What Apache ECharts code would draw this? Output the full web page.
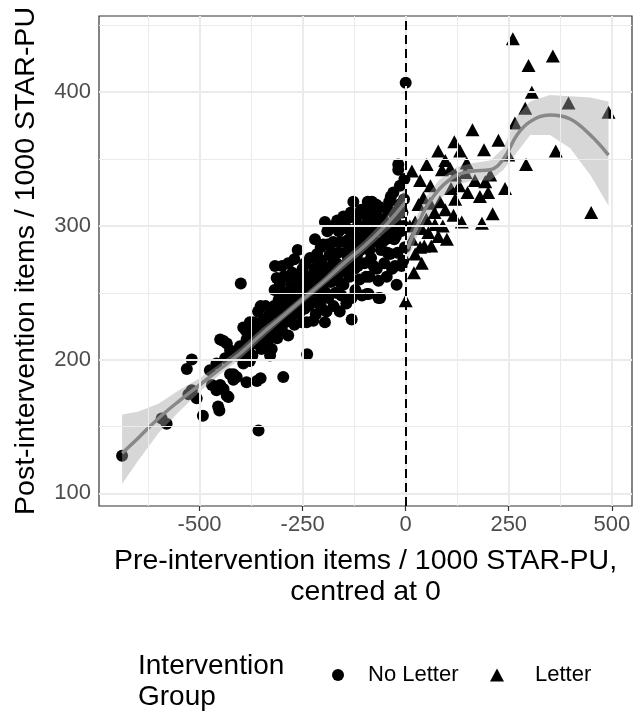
<!DOCTYPE html>
<html>
<head>
<meta charset="utf-8">
<script src="https://cdn.jsdelivr.net/npm/echarts@6/dist/echarts.min.js"></script>
<style>
  html, body { margin: 0; padding: 0; background: #fff; }
  #main { width: 634px; height: 712px; }
</style>
</head>
<body>
<div id="main"></div>
<script>
// tick positions
var xTicks = [-500, -250, 0, 250, 500];
var yTicks = [100, 200, 300, 400];
var xMinor = [-625, -375, -125, 125, 375];
var yMinor = [150, 250, 350, 450];

// No Letter practices: [pre (centred), post]
var noLetterPoints = [
  [-688,128],[-592,156],[-580,152],[-531,193],[-519,200],[-527,174],[-519,177],[-507,171],[-492,158],
  [-475,192],[-459,197],[-455,165],[-452,162],[-459,177],[-470,181],[-450,215],[-442,214],[-434,212],
  [-438,201],[-426,207],[-410,203],[-402,210],[-450,181],[-442,178],[-434,173],[-430,172],[-426,189],
  [-418,189],[-418,185],[-410,187],[-386,183],[-361,184],[-394,197],[-378,199],[-386,215],[-357,147],
  [-352,186],[-297,187],[-400,257],[-329,203],[-239,204],[-224,229],
  [-395,205],[-394,224],[-388,222],[-380,210],[-378,228],[-372,203],[-370,218],
  [-365,212],[-362,225],[-358,236],[-350,208],[-348,219],[-345,230],[-340,240],[-335,213],[-332,224],[-330,234],
  [-325,218],[-322,229],[-320,240],[-318,252],[-313,261],[-317,270],[-312,216],[-310,234],[-308,245],
  [-305,257],[-300,222],[-298,238],[-295,250],[-292,228],[-285,272],[-290,262],
  [-285,218],[-282,232],[-280,244],[-278,255],[-275,265],[-270,226],[-268,240],[-265,250],[-262,260],
  [-258,235],[-255,246],[-252,228],[-250,268],[-246,256],[-244,272],
  [-245,238],[-240,228],[-238,248],[-235,262],[-232,276],[-230,242],[-226,255],[-222,268],[-220,290],
  [-218,234],[-215,279],[-212,250],[-210,262],
  [-206,240],[-204,274],[-200,286],[-200,252],[-196,228],[-196,264],[-196,303],[-192,236],[-190,296],
  [-188,246],[-185,278],[-182,258],[-180,270],[-176,288],[-175,240],[-172,300],[-170,250],
  [-166,262],[-164,280],[-162,296],[-160,236],[-156,248],[-154,270],[-151,307],[-151,256],[-147,288],
  [-144,242],[-142,298],[-140,275],[-136,262],[-133,310],[-131,230],[-131,246],[-130,285],
  [-127,318],[-126,296],[-124,268],[-122,252],[-120,306],[-118,278],[-114,290],[-112,260],[-108,312],
  [-106,248],[-103,300],[-100,272],[-97,285],[-94,249],[-92,318],
  [-90,249],[-88,262],[-86,300],[-84,276],[-82,318],[-80,290],[-76,310],[-72,316],[-70,268],[-66,259],
  [-66,246],[-62,246],[-62,314],[-60,282],[-58,296],[-55,305],[-52,272],
  [-48,290],[-46,262],[-44,312],[-40,300],[-38,279],[-36,322],[-33,268],[-30,325],[-28,290],[-25,306],
  [-22,256],[-20,280],[-18,346],[-18,342],[-15,316],[-12,296],[-10,270],
  [-6,274],[-5,300],[-4,320],[-3,335],[-2,284],[0,407],
  [-300,245],[-288,240],[-272,234],[-260,242],[-248,252],[-236,240],[-228,262],[-214,244],[-208,256],
  [-202,268],[-194,250],[-186,262],[-178,280],[-168,272],[-160,258],[-158,288],[-148,266],[-146,280],
  [-138,290],[-134,270],[-128,278],[-122,288],[-116,270],[-110,282],[-104,292],[-98,300],[-96,262],
  [-88,282],[-84,296],[-78,270],[-74,300],[-70,288],[-66,306],[-56,288],[-50,300],[-44,280],[-40,318],
  [-34,296],[-30,310],[-26,270],[-24,292],[-16,300],[-14,330],[-8,310],[-340,222],[-325,208],[-315,225],
  [-305,230],[-296,262],[-276,250],[-266,262],[-254,258],[-240,262],[-232,252],[-218,276],[-206,284],
  [-190,286],[-184,298],[-176,300],[-166,304],[-158,300],[-140,306],[-116,300],[-100,310],[-92,306],
  [-85,312],[-356,216],[-368,228],[-384,210],[-376,220],[-342,226],[-352,240],[-300,270],[-270,275],[-262,282]
];

// Letter practices: [pre (centred), post]
var letterPoints = [
  [260,440],[357,427],[298,420],[306,400],[290,388],[395,392],[492,385],[265,377],[225,364],[190,357],
  [364,356],[249,353],[292,346],[205,338],[241,328],[211,309],[450,310],[185,302],
  [162,372],[118,363],[79,356],[132,356],[51,346],[96,349],[148,347],[15,341],[35,334],[88,342],
  [120,338],[168,334],[193,333],[108,343],
  [43,321],[31,316],[59,317],[96,312],[116,308],[136,303],[71,301],[23,303],[55,295],[100,290],[79,292],
  [35,284],[23,279],[39,272],[0,244],[39,298],[83,318],
  [130,330],[150,325],[180,322],[200,325],[145,340],[110,328],[60,330],[70,310],[50,305],[15,290],
  [10,300],[20,265],[45,285],[62,285],[90,300],[120,320]
];

// loess fits
var smoothNoX = [-688, -650, -600, -550, -500, -450, -400, -350, -300, -250, -200, -150, -100, -50, 0];
var smoothNoY = [130, 141, 156, 169, 181, 193, 205, 219, 232, 245, 258, 272, 285, 300, 318];
var ribbonNoLow = [107, 124, 145, 161, 176, 189, 201, 215, 229, 242, 255, 268, 281, 295, 308];
var ribbonNoHigh = [159, 161, 167, 177, 186, 197, 209, 223, 235, 248, 261, 276, 289, 305, 329];

var smoothLetX = [4, 25, 50, 83, 124, 164, 205, 237, 270, 302, 350, 399, 448, 492];
var smoothLetY = [283, 298, 314, 328, 338, 341, 342, 350, 368, 378, 383, 380, 368, 353];
var ribbonLetLow = [274, 290, 305, 320, 331, 334, 334, 342, 355, 368, 368, 358, 338, 315];
var ribbonLetHigh = [292, 306, 322, 335, 344, 347, 349, 358, 382, 393, 398, 397, 396, 393];

var font = 'Liberation Sans, Arial, Helvetica, sans-serif';

function zip(xs, ys) {
  return xs.map(function (x, i) { return [x, ys[i]]; });
}

function ribbon(xs, lo, hi) {
  return {
    type: 'custom',
    z: 3,
    silent: true,
    clip: true,
    data: [[xs[0], lo[0]]],
    renderItem: function (params, api) {
      var pts = [];
      for (var i = 0; i < xs.length; i++) pts.push(api.coord([xs[i], hi[i]]));
      for (var j = xs.length - 1; j >= 0; j--) pts.push(api.coord([xs[j], lo[j]]));
      return { type: 'polygon', shape: { points: pts }, style: { fill: 'rgba(163,163,163,0.43)' } };
    }
  };
}

function gridLines(values, dim, width) {
  return values.map(function (v) {
    var o = { lineStyle: { color: '#ebebeb', width: width, type: 'solid' } };
    o[dim] = v;
    return o;
  });
}

var chart = echarts.init(document.getElementById('main'));
chart.setOption({
  animation: false,
  textStyle: { fontFamily: font },
  grid: {
    left: 99, right: 2, top: 16, bottom: 206,
    show: true, borderColor: '#333', borderWidth: 1.2, backgroundColor: '#fff'
  },
  xAxis: {
    type: 'value', min: -744, max: 549,
    name: 'Pre-intervention items / 1000 STAR-PU,\ncentred at 0',
    nameLocation: 'middle', nameGap: 40,
    nameTextStyle: { fontSize: 28.5, color: '#000', lineHeight: 31, fontFamily: font },
    axisLine: { show: false },
    axisTick: { show: true, customValues: xTicks, length: 5, lineStyle: { color: '#333', width: 1.2 } },
    axisLabel: { customValues: xTicks, fontSize: 22, color: '#4d4d4d', margin: 8, fontFamily: font },
    splitLine: { show: false }
  },
  yAxis: {
    type: 'value', min: 90.5, max: 457,
    name: 'Post-intervention items / 1000 STAR-PU',
    nameLocation: 'middle', nameGap: 58,
    nameTextStyle: { fontSize: 28.5, color: '#000', fontFamily: font },
    axisLine: { show: false },
    axisTick: { show: true, customValues: yTicks, length: 5, lineStyle: { color: '#333', width: 1.2 } },
    axisLabel: { customValues: yTicks, fontSize: 22, color: '#4d4d4d', margin: 8, fontFamily: font },
    splitLine: { show: false }
  },
  legend: [
    {
      data: [{ name: 'No Letter', icon: 'circle' }],
      left: 327, top: 659, itemWidth: 12, itemHeight: 12,
      textStyle: { fontSize: 22, color: '#000', fontFamily: font, padding: [0, 0, 0, 19] }
    },
    {
      data: [{ name: 'Letter', icon: 'triangle' }],
      left: 485, top: 659, itemWidth: 14, itemHeight: 13,
      textStyle: { fontSize: 22, color: '#000', fontFamily: font, padding: [0, 0, 0, 26] }
    }
  ],
  graphic: [{
    type: 'text', left: 138, top: 651,
    style: { text: 'Intervention\nGroup', fontSize: 28, lineHeight: 31, fill: '#000', fontFamily: font }
  }],
  series: [
    {
      type: 'line', data: [], z: 1, silent: true,
      markLine: {
        silent: true, symbol: 'none', label: { show: false }, animation: false,
        data: gridLines(xMinor, 'xAxis', 1).concat(gridLines(yMinor, 'yAxis', 1))
          .concat(gridLines(xTicks, 'xAxis', 2)).concat(gridLines(yTicks, 'yAxis', 2))
      }
    },
    {
      name: 'No Letter', type: 'scatter', z: 2, symbol: 'circle', symbolSize: 12,
      itemStyle: { color: '#000', opacity: 1 }, data: noLetterPoints
    },
    {
      name: 'Letter', type: 'scatter', z: 2, symbol: 'triangle', symbolSize: [14, 13],
      itemStyle: { color: '#000', opacity: 1 }, data: letterPoints
    },
    ribbon(smoothNoX, ribbonNoLow, ribbonNoHigh),
    ribbon(smoothLetX, ribbonLetLow, ribbonLetHigh),
    {
      type: 'line', z: 4, smooth: 0.4, symbol: 'none', silent: true,
      lineStyle: { color: '#888', width: 3.5 }, data: zip(smoothNoX, smoothNoY)
    },
    {
      type: 'line', z: 4, smooth: 0.4, symbol: 'none', silent: true,
      lineStyle: { color: '#888', width: 3.5 }, data: zip(smoothLetX, smoothLetY)
    },
    {
      type: 'line', data: [], z: 5, silent: true,
      markLine: {
        silent: true, symbol: 'none', label: { show: false }, animation: false,
        lineStyle: { color: '#000', width: 2, type: [9, 5] },
        data: [{ xAxis: 0 }]
      }
    }
  ]
});
</script>
</body>
</html>
